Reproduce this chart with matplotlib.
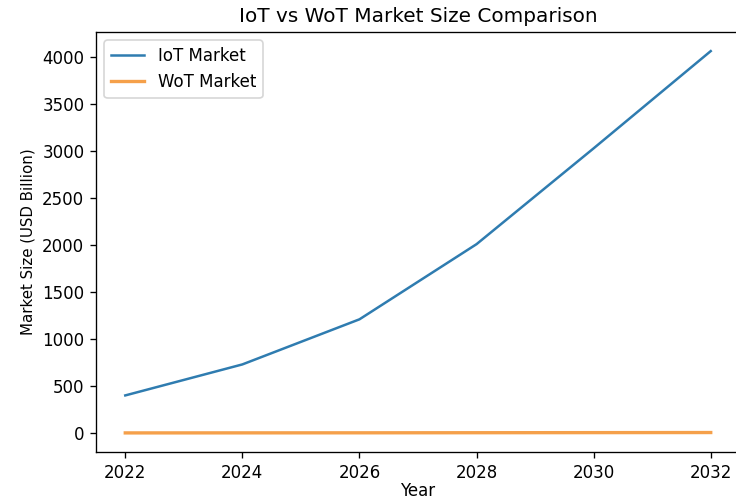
import matplotlib.pyplot as plt

years = [2022, 2024, 2026, 2028, 2030, 2032]
iot_market = [400, 730, 1210, 2010, 3030, 4065]
wot_market = [1, 1.5, 2, 3, 4, 5]

fig = plt.figure(figsize=(736 / 120, 501 / 120), dpi=120)
ax = fig.add_axes([96 / 736, 49 / 501, 644 / 736, 420 / 501])

ax.plot(years, iot_market, label="IoT Market", color="#2f7cb0", linewidth=1.5)
ax.plot(years, wot_market, label="WoT Market", color="#f5a04a", linewidth=2)

ax.set_title("IoT vs WoT Market Size Comparison")
ax.set_xlabel("Year", labelpad=0)
ax.set_ylabel("Market Size (USD Billion)", fontsize=9)
ax.legend(loc="upper left")

fig.savefig("out.png", dpi=120)
